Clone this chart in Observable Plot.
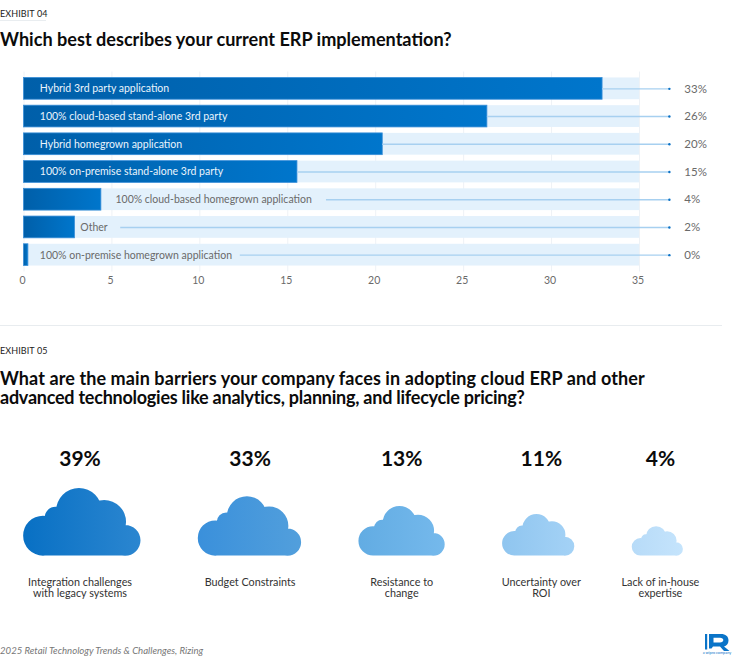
<!DOCTYPE html>
<html>
<head>
<meta charset="utf-8">
<script src="https://cdn.jsdelivr.net/npm/d3@7"></script>
<script src="https://cdn.jsdelivr.net/npm/@observablehq/plot@0.6"></script>
<style>
html,body{margin:0;padding:0;background:#fff}
#page{position:relative;width:750px;height:670px;overflow:hidden;font-family:Lato,sans-serif;color:#000}
#page>*{position:absolute}
.ex{left:0;font-size:9px;color:#222;line-height:11px;letter-spacing:.1px}
h2{margin:0;left:0;font-size:18.1px;font-weight:700;line-height:18px;color:#0b0b0b;white-space:nowrap}
svg text{font-family:Lato,sans-serif}
</style>
</head>
<body>
<div id="page">
  <svg width="0" height="0" style="left:0;top:0">
    <defs>
      <linearGradient id="bar"><stop offset="0" stop-color="#005fa9"/><stop offset="1" stop-color="#0076cc"/></linearGradient>
      <linearGradient id="c0"><stop offset="0" stop-color="#0870c4"/><stop offset="1" stop-color="#2b86d0"/></linearGradient>
      <linearGradient id="c1"><stop offset="0" stop-color="#3a90db"/><stop offset="1" stop-color="#529fdc"/></linearGradient>
      <linearGradient id="c2"><stop offset="0" stop-color="#62ace3"/><stop offset="1" stop-color="#75b9ec"/></linearGradient>
      <linearGradient id="c3"><stop offset="0" stop-color="#8fc5ef"/><stop offset="1" stop-color="#a4d2f6"/></linearGradient>
      <linearGradient id="c4"><stop offset="0" stop-color="#b7dbf8"/><stop offset="1" stop-color="#c5e4fc"/></linearGradient>
    </defs>
  </svg>
  <div class="ex" style="top:8px">EXHIBIT 04</div>
  <div style="left:0;top:20px;width:46px;height:1px;background:#e9edf0"></div>
  <h2 style="top:30px">Which best describes your current ERP implementation?</h2>
  <div id="bars" style="left:0;top:70px"></div>
  <div style="left:0;top:325px;width:722px;height:1px;background:#e8ecef"></div>
  <div class="ex" style="top:345px">EXHIBIT 05</div>
  <h2 style="top:369px;font-size:18px;letter-spacing:.09px">What are the main barriers your company faces in adopting cloud ERP and other</h2>
  <h2 style="top:388px;font-size:18px;letter-spacing:-.24px">advanced technologies like analytics, planning, and lifecycle pricing?</h2>
  <div id="clouds" style="left:0;top:440px"></div>
  <div style="left:0;top:645px;font-size:9.6px;font-style:italic;color:#777;line-height:11px">2025 Retail Technology Trends &amp; Challenges, Rizing</div>
  <svg style="left:700px;top:630px" width="36" height="28" viewBox="0 0 36 28">
    <path fill="#0a74c8" d="M5 4h2.200v15.500H5zM9 4h12c4.500 0 7.500 2.300 7.500 6.500 0 3.200-2 5.300-4.500 6L29.500 21h-5.500l-4-4.500H13l-1.500 2H9zM13.500 7.800V12.500h6.500c2 0 3.300-1 3.300-2.400S22 7.800 20 7.800z"/>
    <text x="17" y="24" font-size="3.800" text-anchor="middle" fill="#0a74c8">a wipro company</text>
  </svg>
</div>
<script>
// Exhibit 04
const implementations = [
  "Hybrid 3rd party application",
  "100% cloud-based stand-alone 3rd party",
  "Hybrid homegrown application",
  "100% on-premise stand-alone 3rd party",
  "100% cloud-based homegrown application",
  "Other",
  "100% on-premise homegrown application"
];
const barValues = [32.9, 26.35, 20.4, 15.55, 4.4, 2.9, 0.25];
const shareLabels = ["33%", "26%", "20%", "15%", "4%", "2%", "0%"];
const axisTicks = [0, 5, 10, 15, 20, 25, 30, 35];

// Exhibit 05
const barriers = [
  "Integration challenges\nwith legacy systems",
  "Budget Constraints",
  "Resistance to\nchange",
  "Uncertainty over\nROI",
  "Lack of in-house\nexpertise"
];
const barrierShares = [39, 33, 13, 11, 4];

// Layout, in axis units: where each label and leader begins
const labelStart = [0.9, 0.9, 0.9, 0.9, 5.2, 3.2, 0.9];
const leaderStart = [32.9, 26.35, 20.4, 15.55, 17.2, 5.5, 12.3];
const leaderEnd = 36.7, shareAt = 37.55;

const rows = implementations.map((name, i) => ({
  name, value: barValues[i], label: shareLabels[i],
  labelX: labelStart[i], leaderX: leaderStart[i], inside: barValues[i] > 10
}));

document.getElementById("bars").append(Plot.plot({
  width: 750, height: 225,
  marginLeft: 23.5, marginRight: 111, marginTop: 1.5, marginBottom: 23.5,
  style: {background: "transparent", fontFamily: "Lato, sans-serif"},
  x: {domain: [0, 35]},
  y: {domain: implementations, padding: 0.215, round: false, axis: null},
  marks: [
    Plot.ruleX(axisTicks, {x: d => d, stroke: "#eef2f6", strokeWidth: 1}),
    Plot.barX(rows, {x1: 0, x2: 35, y: "name", fill: "#e3f1fc"}),
    Plot.barX(rows, {x1: 0, x2: "value", y: "name", fill: "url(#bar)", stroke: "#3b8fd8", strokeWidth: 0.8}),
    Plot.ruleY(rows, {y: "name", x1: "leaderX", x2: leaderEnd, stroke: "#a7d0f0", strokeWidth: 1.4}),
    Plot.dot(rows, {x: leaderEnd, y: "name", r: 1.2, fill: "#0c72c5"}),
    Plot.text(rows, {x: "labelX", y: "name", text: "name", textAnchor: "start", fontSize: 10.5,
      fill: d => d.inside ? "#eaf4fc" : "#6a6a6a"}),
    Plot.text(rows, {x: shareAt, y: "name", text: "label", textAnchor: "start", fontSize: 11.5, fill: "#6a6a6a"}),
    Plot.axisX(axisTicks, {anchor: "bottom", tickSize: 0, tickPadding: 4.5, dx: -1.5, fontSize: 10.5, fill: "#6a6a6a", label: null, tickFormat: d => d})
  ]
}));

// A cloud standing on its origin, as wide as twice the dot radius
const cloudLobes = [[-0.667, -0.339, 0.339], [-0.454, -0.649, 0.184], [-0.052, -0.759, 0.391], [0.379, -0.575, 0.374], [0.736, -0.259, 0.264]];
const cloudSymbol = {
  draw(ctx, size) {
    const r = Math.sqrt(size / Math.PI);
    for (const [cx, cy, cr] of cloudLobes) {
      ctx.moveTo(r * (cx + cr), r * cy);
      ctx.arc(r * cx, r * cy, r * cr, 0, 2 * Math.PI);
      ctx.closePath();
    }
    // same winding as the lobes, so the union stays solid
    ctx.moveTo(-0.667 * r, -0.6 * r);
    ctx.lineTo(0.736 * r, -0.6 * r);
    ctx.lineTo(0.736 * r, 0);
    ctx.lineTo(-0.667 * r, 0);
    ctx.closePath();
  }
};

const cloudRadius = {type: "linear", domain: [4, 11, 13, 33, 39], range: [25.5, 36, 43, 51.5, 58.5]};
const cloudGap = 57.6;
const textNudge = [-2, 0.5, 0, 3, 3];
let cursor = 23;
const cloudRows = barriers.map((label, i) => {
  const radius = d3.scaleLinear(cloudRadius.domain, cloudRadius.range)(barrierShares[i]);
  const at = cursor + radius;
  cursor += 2 * radius + cloudGap;
  return {label, share: barrierShares[i], at, textAt: at + textNudge[i], fill: `url(#c${i})`};
});

document.getElementById("clouds").append(Plot.plot({
  width: 750, height: 165,
  margin: 0,
  style: {background: "transparent", fontFamily: "Lato, sans-serif"},
  x: {domain: [0, 750], axis: null},
  r: cloudRadius,
  color: {type: "identity"},
  marks: [
    Plot.text(cloudRows, {x: "textAt", frameAnchor: "top", dy: 11, lineAnchor: "top", text: d => d.share + "%",
      fontSize: 21, fontWeight: 700, fill: "#0b0b0b"}),
    Plot.dot(cloudRows, {x: "at", frameAnchor: "bottom", dy: -50, r: "share", symbol: cloudSymbol, fill: "fill", stroke: "none"}),
    Plot.text(cloudRows, {x: "textAt", frameAnchor: "top", dy: 137, lineAnchor: "top", text: "label",
      fontSize: 10.8, lineHeight: 1.07, fill: "#333"})
  ]
}));
</script>
</body>
</html>
